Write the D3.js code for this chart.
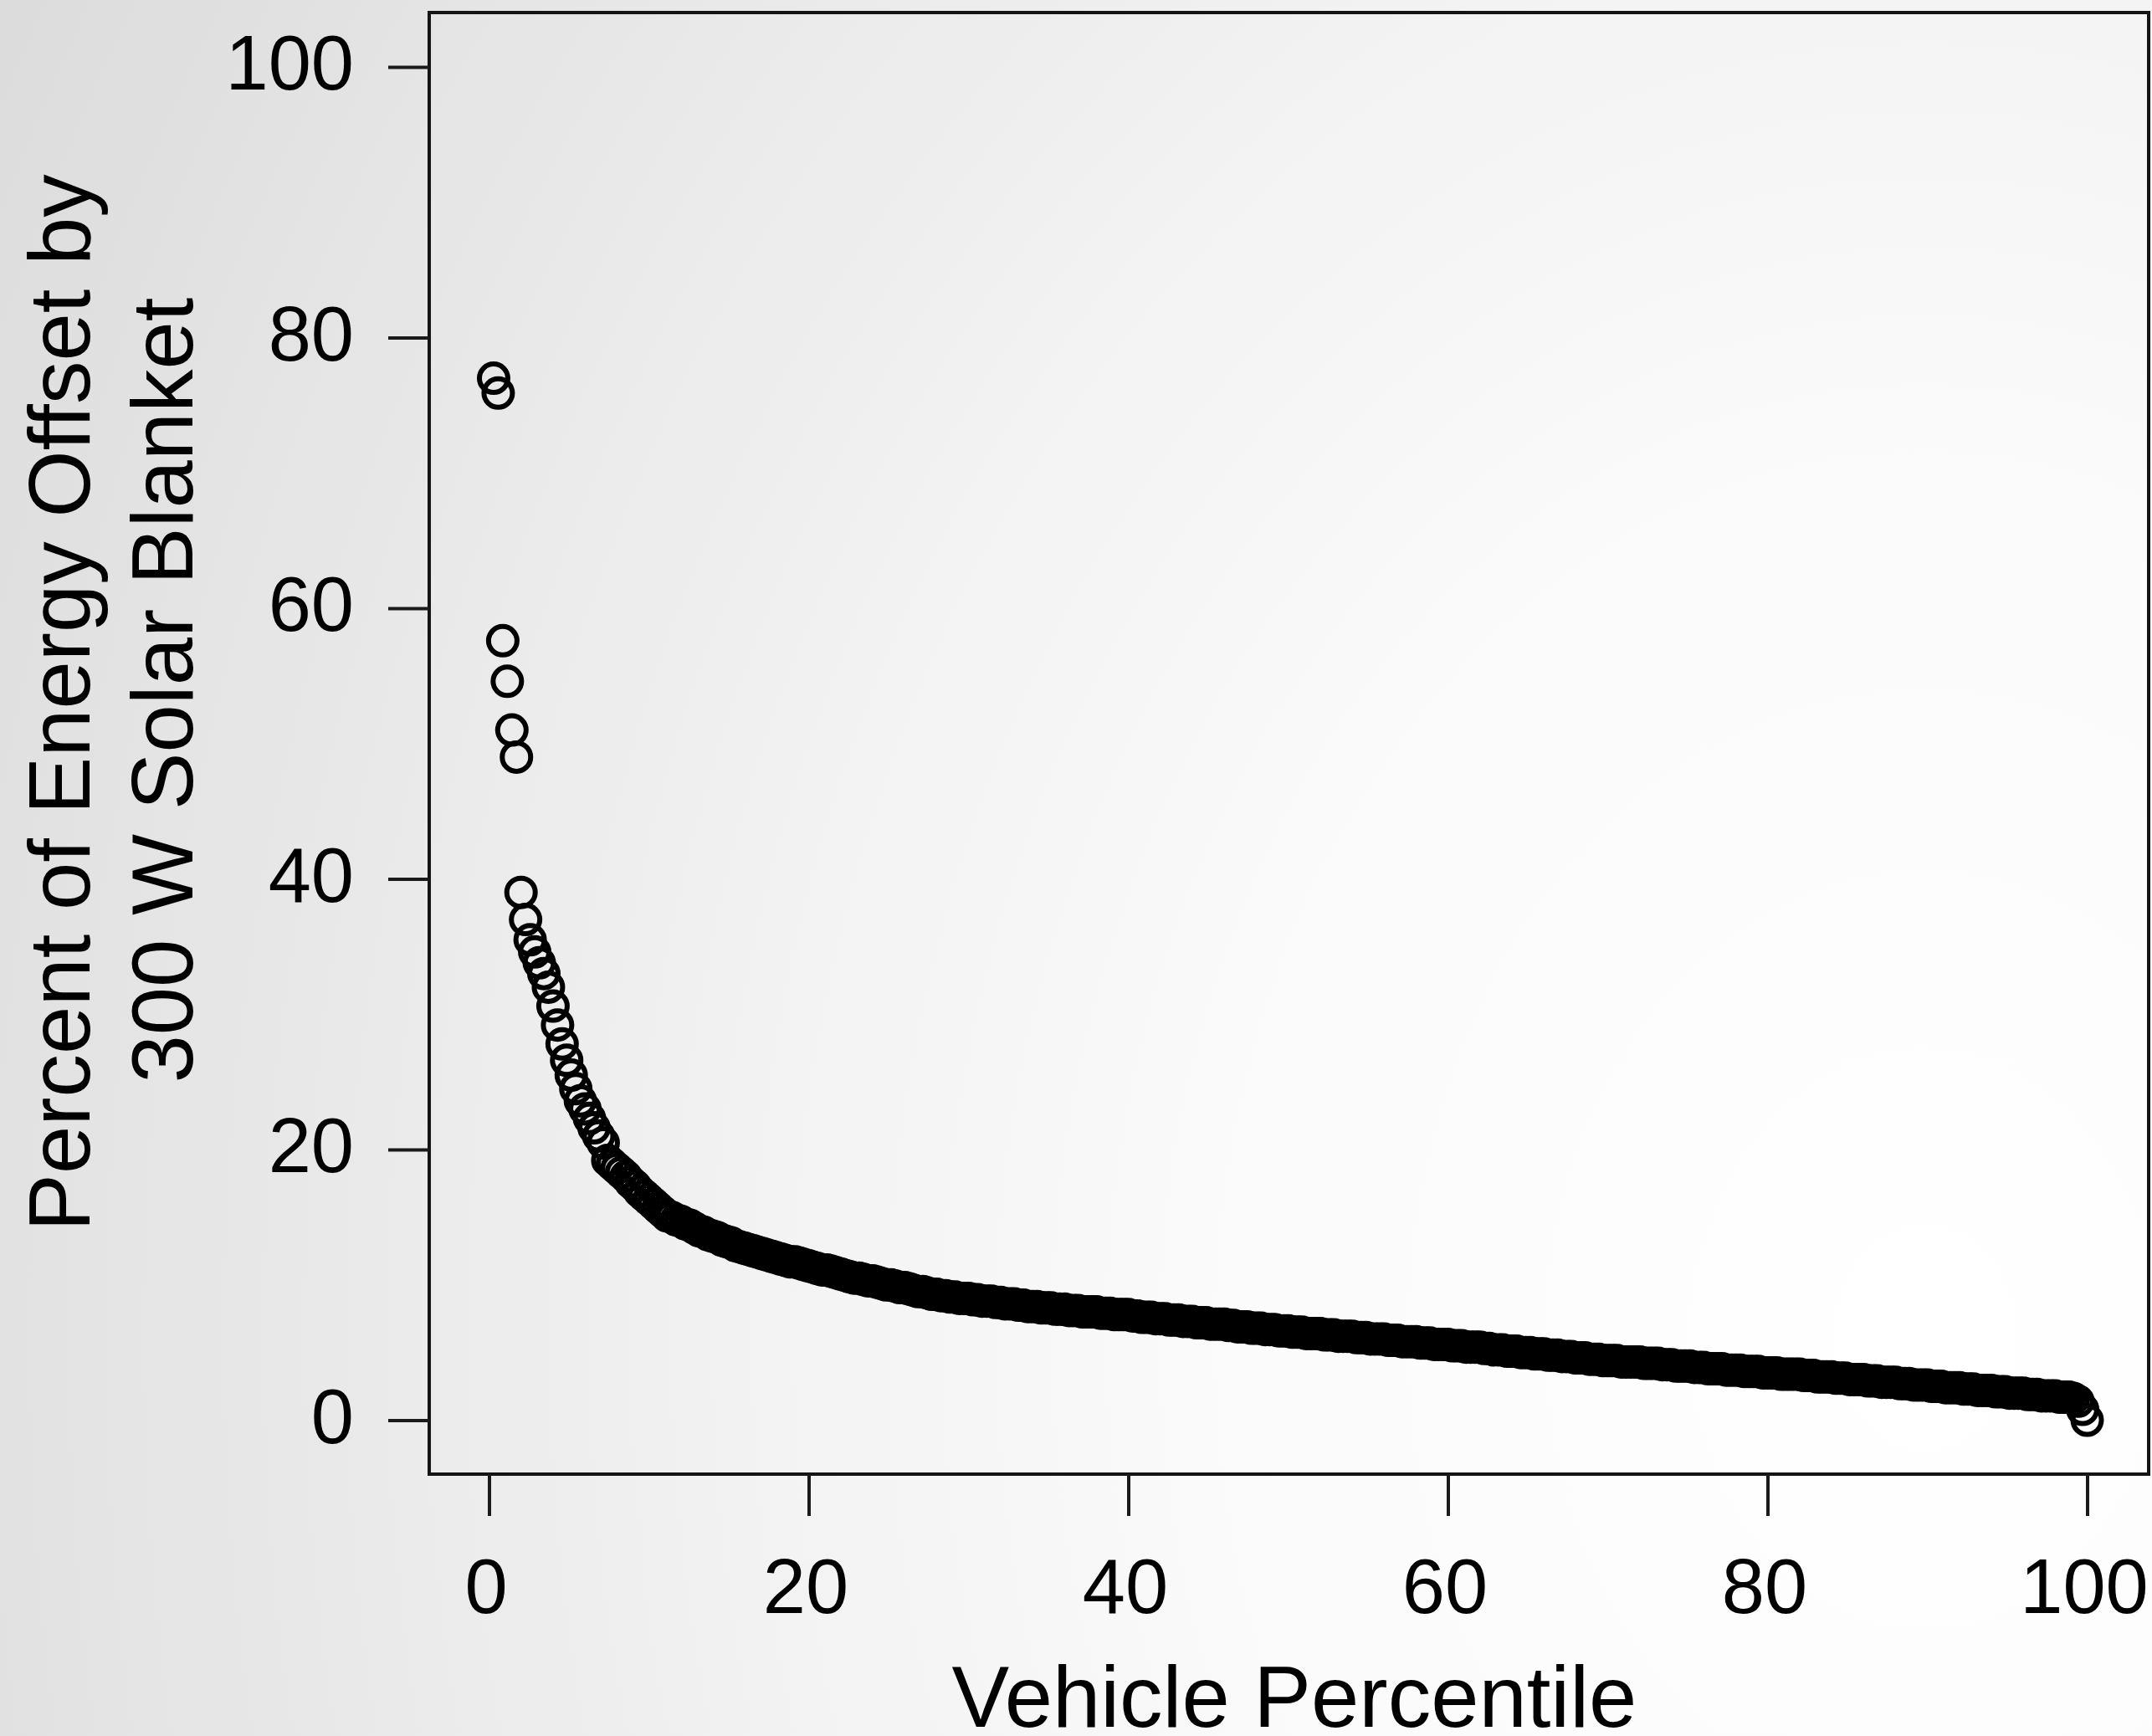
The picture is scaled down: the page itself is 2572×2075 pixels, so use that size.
<!DOCTYPE html>
<html><head><meta charset="utf-8">
<script src="https://cdn.jsdelivr.net/npm/d3@7"></script>
<style>html,body{margin:0;padding:0;background:#fff;overflow:hidden;} svg{display:block;}</style>
</head><body>
<svg id="chart" width="2572" height="2075"></svg>
<script>
// Percent of energy offset, vehicles sorted from highest to lowest
const offsetValues = [
  77.0, 75.9, 57.6, 54.6, 51.0, 49.0, 39.0, 37.0, 35.5, 34.6,
  33.8, 33.0, 32.0, 30.6, 29.2, 27.8, 26.6, 25.5, 24.5, 23.6,
  23.0, 22.3, 21.6, 21.0, 20.5, 19.2, 18.9, 18.6, 18.3, 18.0,
  17.6, 17.3, 16.9, 16.6, 16.3, 16.0, 15.7, 15.4, 15.1, 15.0,
  14.8, 14.7, 14.5, 14.4, 14.2, 14.0, 13.9, 13.7, 13.6, 13.5,
  13.3, 13.2, 13.1, 12.9, 12.8, 12.7, 12.6, 12.5, 12.4, 12.3,
  12.2, 12.1, 12.0, 11.9, 11.8, 11.7, 11.7, 11.6, 11.5, 11.4,
  11.3, 11.2, 11.1, 11.1, 11.0, 10.9, 10.8, 10.7, 10.6, 10.5,
  10.5, 10.4, 10.3, 10.3, 10.2, 10.1, 10.0, 10.0, 9.9, 9.8,
  9.8, 9.7, 9.6, 9.5, 9.5, 9.4, 9.3, 9.3, 9.2, 9.2,
  9.1, 9.1, 9.0, 9.0, 9.0, 8.9, 8.9, 8.8, 8.8, 8.8,
  8.7, 8.7, 8.6, 8.6, 8.6, 8.5, 8.5, 8.4, 8.4, 8.4,
  8.3, 8.3, 8.3, 8.2, 8.2, 8.2, 8.1, 8.1, 8.1, 8.0,
  8.0, 8.0, 8.0, 7.9, 7.9, 7.9, 7.8, 7.8, 7.8, 7.8,
  7.7, 7.7, 7.6, 7.6, 7.6, 7.5, 7.5, 7.5, 7.4, 7.4,
  7.4, 7.3, 7.3, 7.3, 7.2, 7.2, 7.2, 7.1, 7.1, 7.1,
  7.1, 7.0, 7.0, 6.9, 6.9, 6.9, 6.8, 6.8, 6.8, 6.7,
  6.7, 6.7, 6.6, 6.6, 6.6, 6.5, 6.5, 6.5, 6.4, 6.4,
  6.4, 6.4, 6.3, 6.3, 6.3, 6.2, 6.2, 6.2, 6.2, 6.1,
  6.1, 6.1, 6.0, 6.0, 6.0, 6.0, 5.9, 5.9, 5.9, 5.8,
  5.8, 5.8, 5.8, 5.7, 5.7, 5.7, 5.6, 5.6, 5.6, 5.6,
  5.5, 5.5, 5.5, 5.4, 5.4, 5.4, 5.4, 5.3, 5.3, 5.2,
  5.2, 5.2, 5.1, 5.1, 5.1, 5.0, 5.0, 5.0, 4.9, 4.9,
  4.9, 4.8, 4.8, 4.8, 4.7, 4.7, 4.7, 4.6, 4.6, 4.6,
  4.5, 4.5, 4.5, 4.4, 4.4, 4.4, 4.4, 4.3, 4.3, 4.3,
  4.3, 4.3, 4.2, 4.2, 4.2, 4.2, 4.1, 4.1, 4.1, 4.0,
  4.0, 4.0, 4.0, 3.9, 3.9, 3.9, 3.8, 3.8, 3.8, 3.8,
  3.7, 3.7, 3.7, 3.7, 3.6, 3.6, 3.6, 3.6, 3.5, 3.5,
  3.5, 3.5, 3.4, 3.4, 3.4, 3.4, 3.4, 3.3, 3.3, 3.3,
  3.2, 3.2, 3.2, 3.2, 3.1, 3.1, 3.1, 3.0, 3.0, 3.0,
  3.0, 2.9, 2.9, 2.9, 2.8, 2.8, 2.8, 2.8, 2.7, 2.7,
  2.7, 2.6, 2.6, 2.6, 2.6, 2.5, 2.5, 2.5, 2.4, 2.4,
  2.4, 2.4, 2.3, 2.3, 2.3, 2.2, 2.2, 2.2, 2.2, 2.1,
  2.1, 2.1, 2.0, 2.0, 2.0, 2.0, 1.9, 1.9, 1.9, 1.8,
  1.8, 1.8, 1.8, 1.7, 1.7, 1.7, 1.6, 1.4, 0.8, 0.0
];
const xTicks = [0, 20, 40, 60, 80, 100];
const yTicks = [0, 20, 40, 60, 80, 100];
const xTitle = "Vehicle Percentile";
const yTitleLines = ["Percent of Energy Offset by", "300 W Solar Blanket"];

const W = 2572, H = 2075;
const FONT = "'Liberation Sans', Arial, Helvetica, sans-serif";
const svg = d3.select("#chart");

// background
const defs = svg.append("defs");
const grad = defs.append("radialGradient").attr("id", "bg")
  .attr("gradientUnits", "userSpaceOnUse")
  .attr("cx", 2300).attr("cy", 1600).attr("r", 2600)
  .attr("gradientTransform", "translate(2300 1600) scale(1 1.25) translate(-2300 -1600)");
[[0, "#ffffff"], [0.3, "#fbfbfb"], [0.5, "#f4f4f4"], [0.8, "#e6e6e6"], [1, "#dcdcdc"]]
  .forEach(([o, c]) => grad.append("stop").attr("offset", o).attr("stop-color", c));
svg.append("rect").attr("width", W).attr("height", H).attr("fill", "url(#bg)");

const box = {left: 513, top: 15, right: 2568, bottom: 1762};
const x = d3.scaleLinear().domain([0, 100]).range([584.5, 2494.5]);
const y = d3.scaleLinear().domain([0, 100]).range([1697.5, 80]);

// points
const n = offsetValues.length;
const pts = offsetValues.map((v, i) => ({p: (i + 1) / n * 100, v}));
svg.append("g").selectAll("circle").data(pts).join("circle")
  .attr("cx", d => x(d.p)).attr("cy", d => y(d.v)).attr("r", 17)
  .attr("fill", "none").attr("stroke", "#000").attr("stroke-width", 6);

// box
svg.append("rect").attr("x", box.left).attr("y", box.top)
  .attr("width", box.right - box.left).attr("height", box.bottom - box.top)
  .attr("fill", "none").attr("stroke", "#141414").attr("stroke-width", 4);

// axes
const gx = svg.append("g").attr("transform", `translate(0,${box.bottom})`)
  .call(d3.axisBottom(x).tickValues(xTicks).tickSize(50).tickSizeOuter(0).tickPadding(51));
const gy = svg.append("g").attr("transform", `translate(${box.left},0)`)
  .call(d3.axisLeft(y).tickValues(yTicks).tickSize(49).tickSizeOuter(0).tickPadding(41));
[gx, gy].forEach(g => {
  g.select(".domain").remove();
  g.attr("font-family", FONT).attr("font-size", 92);
  g.selectAll(".tick line").attr("stroke", "#1a1a1a").attr("stroke-width", 4);
  g.selectAll(".tick text").attr("fill", "#000");
});
gx.selectAll(".tick text").attr("dx", -4);
gy.selectAll(".tick text").attr("dy", "0.29em");

// titles
svg.append("text").attr("x", 1547).attr("y", 2064)
  .attr("text-anchor", "middle").attr("font-family", FONT).attr("font-size", 103)
  .attr("fill", "#000").text(xTitle);
const yTitlePos = [{bx: 107, cy: 840}, {bx: 230, cy: 825}];
yTitleLines.forEach((t, i) => {
  svg.append("text")
    .attr("transform", `translate(${yTitlePos[i].bx},${yTitlePos[i].cy}) rotate(-90)`)
    .attr("text-anchor", "middle").attr("font-family", FONT).attr("font-size", 103)
    .attr("fill", "#000").text(t);
});
</script>
</body></html>
